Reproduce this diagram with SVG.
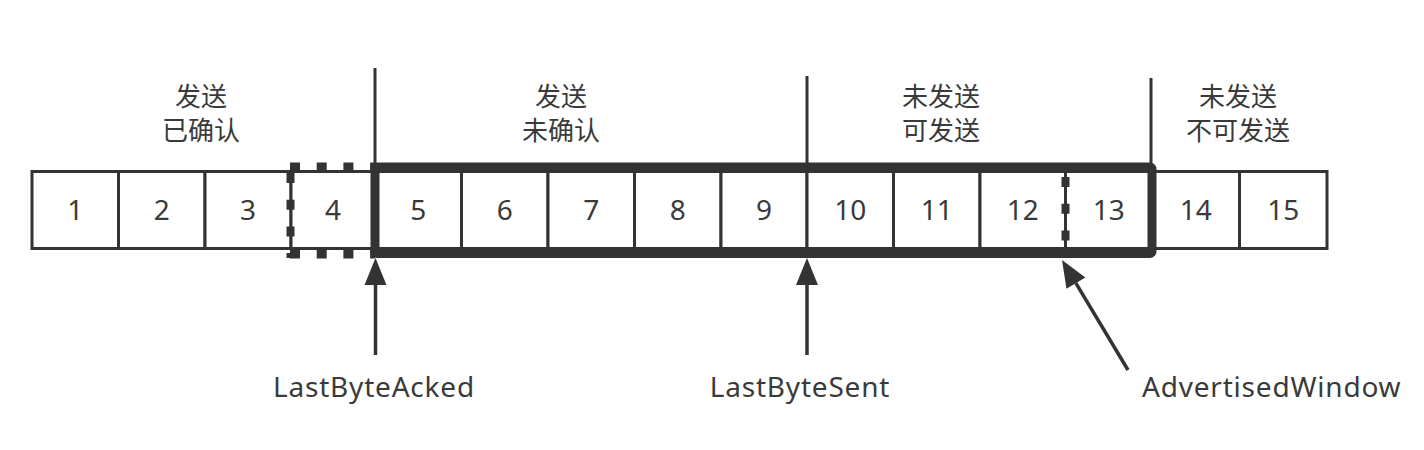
<svg xmlns="http://www.w3.org/2000/svg" width="1424" height="450" viewBox="0 0 1424 450">
<defs>
<style>
.cell{fill:#fff;stroke:#333;stroke-width:3}
.num{font-family:"Noto Sans","Open Sans",sans-serif;font-size:28px;fill:#3a3a3a;text-anchor:middle}
.hdr{font-family:"Noto Sans CJK SC",sans-serif;font-size:26px;fill:#3a3a3a;text-anchor:middle}
.lbl{font-family:"Noto Sans","Open Sans",sans-serif;font-size:28px;letter-spacing:0.8px;fill:#3a3a3a}
.sep{stroke:#333;stroke-width:3;fill:none}
.thick{fill:none;stroke:#333;stroke-width:9;stroke-linejoin:round}
.dash{stroke:#333;stroke-width:9;stroke-dasharray:10 16.7;fill:none}
.dashv{stroke:#333;stroke-width:8;stroke-dasharray:10 16.7;fill:none}
.arrow{stroke:#333;stroke-width:3.5;fill:none;marker-end:url(#ah)}
</style>
<marker id="ah" markerUnits="userSpaceOnUse" markerWidth="28" markerHeight="24" refX="0" refY="11" orient="auto" overflow="visible">
<path d="M0,0 L27,11 L0,22 Z" fill="#333"/>
</marker>
</defs>
<rect width="1424" height="450" fill="#fff"/>

<g id="cells">
<g id="cell1"><rect class="cell" x="32" y="171.5" width="86.5" height="77"/><text class="num" x="75.3" y="220">1</text></g>
<g id="cell2"><rect class="cell" x="118.5" y="171.5" width="86.5" height="77"/><text class="num" x="161.8" y="220">2</text></g>
<g id="cell3"><rect class="cell" x="205" y="171.5" width="86" height="77"/><text class="num" x="248" y="220">3</text></g>
<g id="cell4"><rect class="cell" x="291" y="171.5" width="84" height="77"/><text class="num" x="333" y="220">4</text></g>
<g id="cell5"><rect class="cell" x="375" y="171.5" width="86.5" height="77"/><text class="num" x="418.3" y="220">5</text></g>
<g id="cell6"><rect class="cell" x="461.5" y="171.5" width="86.5" height="77"/><text class="num" x="504.8" y="220">6</text></g>
<g id="cell7"><rect class="cell" x="548" y="171.5" width="86.5" height="77"/><text class="num" x="591.3" y="220">7</text></g>
<g id="cell8"><rect class="cell" x="634.5" y="171.5" width="86.5" height="77"/><text class="num" x="677.8" y="220">8</text></g>
<g id="cell9"><rect class="cell" x="721" y="171.5" width="86" height="77"/><text class="num" x="764" y="220">9</text></g>
<g id="cell10"><rect class="cell" x="807" y="171.5" width="86.5" height="77"/><text class="num" x="850.3" y="220">10</text></g>
<g id="cell11"><rect class="cell" x="893.5" y="171.5" width="86.5" height="77"/><text class="num" x="936.8" y="220">11</text></g>
<g id="cell12"><rect class="cell" x="980" y="171.5" width="85.5" height="77"/><text class="num" x="1022.8" y="220">12</text></g>
<g id="cell13"><rect class="cell" x="1065.5" y="171.5" width="86.5" height="77"/><text class="num" x="1108.8" y="220">13</text></g>
<g id="cell14"><rect class="cell" x="1152" y="171.5" width="87.5" height="77"/><text class="num" x="1195.8" y="220">14</text></g>
<g id="cell15"><rect class="cell" x="1239.5" y="171.5" width="87.5" height="77"/><text class="num" x="1283.3" y="220">15</text></g>
</g>

<g id="acked-marker">
<line class="dash" x1="290" y1="167" x2="375" y2="167"/>
<line class="dash" x1="290" y1="254" x2="375" y2="254"/>
<line class="dashv" x1="290.5" y1="173" x2="290.5" y2="258"/>
</g>

<g id="window-marker">
<line class="dashv" x1="1065.5" y1="177" x2="1065.5" y2="249"/>
</g>

<g id="send-window">
<rect class="thick" x="375" y="167" width="777" height="86.5" rx="2"/>
</g>

<g id="separators">
<line class="sep" x1="375" y1="68" x2="375" y2="167"/>
<line class="sep" x1="807" y1="76" x2="807" y2="167"/>
<line class="sep" x1="1151" y1="78" x2="1151" y2="167"/>
</g>

<g id="headers">
<g id="hdr-acked"><text class="hdr" x="201" y="106">发送</text><text class="hdr" x="201" y="140">已确认</text></g>
<g id="hdr-unacked"><text class="hdr" x="561" y="106">发送</text><text class="hdr" x="561" y="140">未确认</text></g>
<g id="hdr-usable"><text class="hdr" x="941" y="106">未发送</text><text class="hdr" x="941" y="140">可发送</text></g>
<g id="hdr-unusable"><text class="hdr" x="1238" y="106">未发送</text><text class="hdr" x="1238" y="140">不可发送</text></g>
</g>

<g id="connectors">
<line class="arrow" x1="375.5" y1="355" x2="375.5" y2="285"/>
<line class="arrow" x1="807" y1="355" x2="807" y2="285"/>
<line class="arrow" x1="1128" y1="370" x2="1075.9" y2="283.1"/>
</g>

<g id="labels">
<g id="lbl-acked"><text class="lbl" x="374" y="397" text-anchor="middle">LastByteAcked</text></g>
<g id="lbl-sent"><text class="lbl" x="800" y="397" text-anchor="middle">LastByteSent</text></g>
<g id="lbl-window"><text class="lbl" x="1142" y="397">AdvertisedWindow</text></g>
</g>
</svg>
